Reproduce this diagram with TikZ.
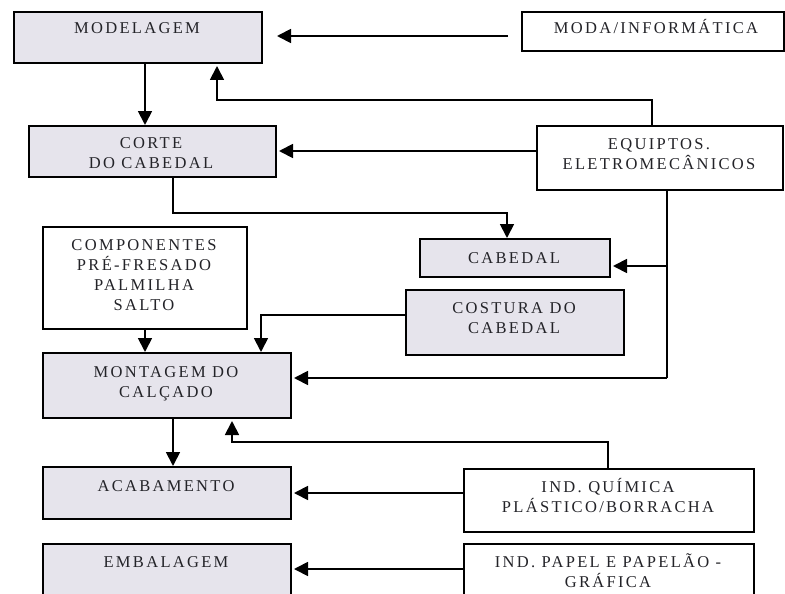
\documentclass[tikz,border=0pt]{standalone}
\usepackage{fontspec}
\setmainfont{Liberation Serif}[LetterSpace=14]
\usetikzlibrary{arrows.meta}
\definecolor{boxfill}{RGB}{230,228,236}
\definecolor{txt}{RGB}{35,35,40}
\tikzset{
  proc/.style={draw=black, line width=2pt, fill=boxfill, inner sep=0pt, anchor=north west},
  ext/.style={draw=black, line width=2pt, fill=white, inner sep=0pt, anchor=north west},
  lbl/.style={anchor=base, inner sep=0pt, align=center, text=txt, font={\fontsize{16.5}{20}\selectfont}},
  conn/.style={line width=1.8pt, -{Triangle[length=14pt,width=14pt]}},
  plain/.style={line width=1.8pt}
}
\begin{document}
\begin{tikzpicture}[x=1pt,y=-1pt]
\useasboundingbox (0,0) rectangle (785,594);
% boxes
\node[proc, minimum width=248pt, minimum height=51pt] (mod) at (13,11) {};
\node[ext, minimum width=262pt, minimum height=39pt] (moda) at (521,11) {};
\node[proc, minimum width=247pt, minimum height=51pt] (corte) at (28,125) {};
\node[ext, minimum width=246pt, minimum height=64pt] (equi) at (536,125) {};
\node[ext, minimum width=204pt, minimum height=102pt] (comp) at (42,226) {};
\node[proc, minimum width=190pt, minimum height=38pt] (cab) at (419,238) {};
\node[proc, minimum width=218pt, minimum height=65pt] (cost) at (405,289) {};
\node[proc, minimum width=248pt, minimum height=65pt] (mont) at (42,352) {};
\node[proc, minimum width=248pt, minimum height=52pt] (acab) at (42,466) {};
\node[ext, minimum width=290pt, minimum height=63pt] (quim) at (463,468) {};
\node[proc, minimum width=248pt, minimum height=56pt] (emb) at (42,543) {};
\node[ext, minimum width=290pt, minimum height=56pt] (pap) at (463,543) {};
% labels (anchor = baseline of last line)
\node[lbl] (tmod) at (137,34) {MODELAGEM};
\node[lbl] (tmoda) at (656,34) {MODA/INFORMÁTICA};
\node[lbl] (tcorte) at (151,168) {CORTE\\DO CABEDAL};
\node[lbl] (tequi) at (659,169) {EQUIPTOS.\\ELETROMECÂNICOS};
\node[lbl] (tcomp) at (144,310) {COMPONENTES\\PRÉ-FRESADO\\PALMILHA\\SALTO};
\node[lbl] (tcab) at (514,263) {CABEDAL};
\node[lbl] (tcost) at (514,333) {COSTURA DO\\CABEDAL};
\node[lbl] (tmont) at (166,397) {MONTAGEM DO\\CALÇADO};
\node[lbl] (tacab) at (166,491) {ACABAMENTO};
\node[lbl] (tquim) at (608,512) {IND. QUÍMICA\\PLÁSTICO/BORRACHA};
\node[lbl] (temb) at (166,567) {EMBALAGEM};
\node[lbl] (tpap) at (608,587) {IND. PAPEL E PAPELÃO -\\GRÁFICA};
% helper coordinates
\coordinate (a1s) at (508,36);
\coordinate (a1e) at (277,36);
\coordinate (eqr) at (667,189);
\coordinate (eqb) at (667,378);
% connectors
\draw[conn] (a1s) -- (a1e);
\draw[conn] (mod.south -| 145,0) -- (corte.north -| 145,0);
\draw[conn] (equi.north -| 652,0) |- (217,100) -- ([yshift=-2pt]mod.south -| 217,0);
\draw[conn] (equi.west |- 0,151) -- ([xshift=2pt]corte.east |- 0,151);
\draw[conn] (corte.south -| 173,0) |- (507,213) -- (cab.north -| 507,0);
\draw[plain] (eqr) -- (eqb);
\draw[conn] (eqr |- 0,266) -- ([xshift=2pt]cab.east |- 0,266);
\draw[conn] (eqb) -- ([xshift=2pt]mont.east |- eqb);
\draw[conn] (cost.west |- 0,315) -| (mont.north -| 261,0);
\draw[conn] (comp.south -| 145,0) -- (mont.north -| 145,0);
\draw[conn] (mont.south -| 173,0) -- (acab.north -| 173,0);
\draw[conn] (quim.north -| 608,0) |- (232,442) -- ([yshift=-2pt]mont.south -| 232,0);
\draw[conn] (quim.west |- 0,493) -- ([xshift=2pt]acab.east |- 0,493);
\draw[conn] (pap.west |- 0,569) -- ([xshift=2pt]emb.east |- 0,569);
\end{tikzpicture}
\end{document}
